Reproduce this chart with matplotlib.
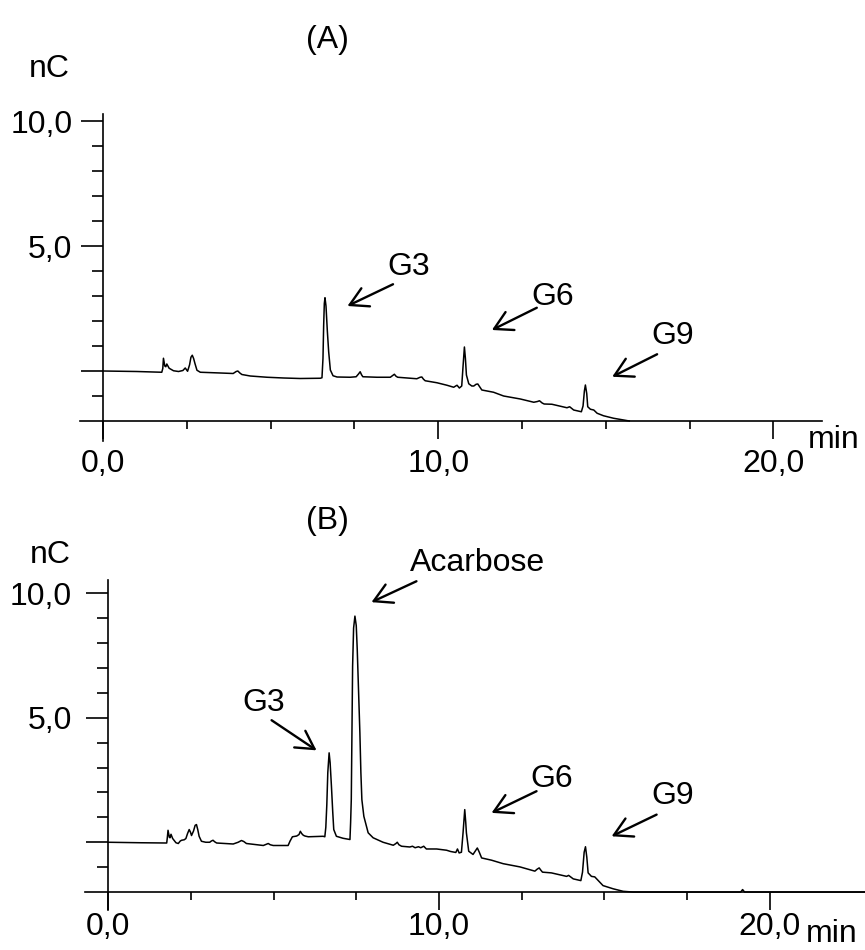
import matplotlib
matplotlib.use('Agg')
import matplotlib.pyplot as plt

plt.rcParams['font.family'] = ['Liberation Sans', 'DejaVu Sans']

# chromatogram A (time in min, signal in nC)
time_a = [0.0, 1.0, 1.75, 1.78, 1.80, 1.84, 1.87, 1.90, 1.97, 2.10, 2.25, 2.38,
          2.45, 2.52, 2.58, 2.62, 2.66, 2.70, 2.74, 2.80, 2.90, 3.50, 3.88, 3.97,
          4.02, 4.08, 4.14, 4.39, 4.89, 5.39, 5.88, 6.48, 6.53, 6.56, 6.58, 6.60,
          6.62, 6.65, 6.69, 6.73, 6.78, 6.86, 6.98, 7.37, 7.55, 7.62, 7.67, 7.71,
          7.75, 8.17, 8.57, 8.65, 8.69, 8.74, 8.79, 9.36, 9.46, 9.51, 9.56, 9.61,
          9.96, 10.26, 10.46, 10.52, 10.56, 10.63, 10.70, 10.74, 10.78, 10.81,
          10.84, 10.91, 11.00, 11.06, 11.13, 11.18, 11.30, 11.65, 11.95, 12.45,
          12.85, 12.96, 13.02, 13.10, 13.16, 13.39, 13.84, 13.92, 14.04, 14.27,
          14.32, 14.36, 14.39, 14.43, 14.46, 14.54, 14.64, 14.74, 14.93, 15.23,
          15.53, 15.70]
signal_a = [0.00, -0.02, -0.05, 0.10, 0.51, 0.20, 0.17, 0.28, 0.11, 0.01, -0.02, 0.02,
            0.12, -0.01, 0.25, 0.55, 0.63, 0.50, 0.30, 0.03, -0.05, -0.08, -0.10, -0.02,
            0.00, -0.08, -0.14, -0.20, -0.25, -0.28, -0.30, -0.29, -0.27, 0.50, 1.80, 2.70,
            2.93, 2.60, 1.60, 0.77, 0.04, -0.19, -0.24, -0.25, -0.23, -0.12, -0.03, -0.15,
            -0.23, -0.25, -0.25, -0.17, -0.13, -0.21, -0.25, -0.31, -0.25, -0.24, -0.33, -0.39,
            -0.47, -0.57, -0.65, -0.60, -0.57, -0.68, -0.60, 0.20, 0.96, 0.50,
            -0.16, -0.51, -0.60, -0.60, -0.53, -0.52, -0.76, -0.85, -1.00, -1.12,
            -1.25, -1.22, -1.19, -1.28, -1.32, -1.33, -1.47, -1.43, -1.56, -1.63,
            -1.40, -0.80, -0.56, -0.90, -1.43, -1.53, -1.56, -1.69, -1.79, -1.89,
            -1.96, -2.00]

# chromatogram B
time_b = [0.0, 1.0, 1.77, 1.79, 1.81, 1.85, 1.87, 1.90, 1.95, 1.99, 2.05, 2.12,
          2.18, 2.22, 2.30, 2.35, 2.40, 2.45, 2.49, 2.52, 2.58, 2.63, 2.67, 2.71,
          2.75, 2.82, 2.95, 3.07, 3.12, 3.17, 3.22, 3.28, 3.78, 3.93, 4.03, 4.10,
          4.18, 4.69, 4.78, 4.84, 4.90, 4.99, 5.44, 5.50, 5.57, 5.70, 5.77, 5.81,
          5.85, 5.90, 5.95, 6.05, 6.50, 6.55, 6.58, 6.61, 6.64, 6.68, 6.71, 6.75,
          6.79, 6.82, 6.90, 7.10, 7.31, 7.33, 7.35, 7.37, 7.39, 7.42, 7.46, 7.50,
          7.53, 7.57, 7.61, 7.64, 7.67, 7.73, 7.86, 8.01, 8.31, 8.62, 8.70, 8.74,
          8.79, 8.87, 9.12, 9.20, 9.28, 9.38, 9.45, 9.54, 9.62, 9.93, 10.23, 10.35,
          10.51, 10.56, 10.61, 10.68, 10.73, 10.78, 10.81, 10.83, 10.90, 11.03,
          11.10, 11.16, 11.22, 11.29, 11.59, 11.94, 12.45, 12.90, 12.97, 13.03,
          13.08, 13.13, 13.40, 13.86, 13.92, 14.06, 14.29, 14.34, 14.39, 14.43,
          14.47, 14.51, 14.61, 14.71, 14.81, 14.96, 15.27, 15.57, 15.87, 19.12,
          19.18, 19.24, 22.9]
signal_b = [0.00, -0.02, -0.03, 0.20, 0.48, 0.20, 0.18, 0.32, 0.15, 0.08, -0.02, -0.05,
            0.05, 0.08, 0.10, 0.15, 0.35, 0.51, 0.40, 0.27, 0.45, 0.68, 0.71, 0.50,
            0.24, 0.04, 0.00, 0.00, 0.05, 0.08, 0.02, -0.03, -0.07, 0.00, 0.07, 0.03,
            -0.05, -0.13, -0.08, -0.05, -0.10, -0.13, -0.13, 0.05, 0.22, 0.25, 0.31, 0.44,
            0.35, 0.28, 0.25, 0.22, 0.24, 0.22, 0.60, 1.50, 2.80, 3.59, 3.20, 2.25,
            1.20, 0.51, 0.24, 0.16, 0.11, 0.80, 1.71, 4.50, 7.07, 8.60, 9.08, 8.70,
            7.74, 6.00, 4.39, 2.80, 1.71, 1.04, 0.38, 0.18, 0.00, -0.12, -0.05, 0.00,
            -0.10, -0.16, -0.19, -0.16, -0.22, -0.18, -0.22, -0.16, -0.27, -0.27, -0.32, -0.37,
            -0.41, -0.27, -0.43, -0.40, 0.40, 1.31, 0.80, 0.38, -0.36, -0.49,
            -0.35, -0.23, -0.40, -0.63, -0.72, -0.86, -0.99, -1.16, -1.08, -1.03,
            -1.12, -1.20, -1.23, -1.37, -1.33, -1.47, -1.54, -1.20, -0.40, -0.18,
            -0.60, -1.23, -1.37, -1.39, -1.53, -1.74, -1.87, -1.97, -2.00, -2.00,
            -1.90, -2.00, -2.00]

# peak labels: text, text position, arrow tail, arrow head
labels_a = ['G3', 'G6', 'G9']
label_pos_a = [(9.13, 4.16), (13.40, 2.96), (17.0, 1.40)]
arrows_a = [((8.65, 3.47), (7.29, 2.60)),
            ((12.94, 2.53), (11.60, 1.64)),
            ((16.53, 0.67), (15.19, -0.23))]

labels_b = ['Acarbose', 'G3', 'G6', 'G9']
label_pos_b = [(11.18, 11.23), (4.71, 5.61), (13.41, 2.52), (17.06, 1.84)]
arrows_b = [((9.32, 10.48), (7.96, 9.64)),
            ((4.94, 4.90), (6.30, 3.69)),
            ((12.95, 2.05), (11.59, 1.18)),
            ((16.58, 1.11), (15.22, 0.24))]

x_major = [0, 10, 20]
x_major_labels = ['0,0', '10,0', '20,0']
x_minor = [2.5, 5, 7.5, 12.5, 15, 17.5]
y_major = [0, 5, 10]
y_major_labels = ['', '5,0', '10,0']
y_minor = [-1, 1, 2, 3, 4, 6, 7, 8, 9]

FS = 23
W, H = 865, 950


def px(x, y):
    return x / W, 1 - y / H


def style_axes(ax, xpad, ypad):
    for s in ('top', 'right'):
        ax.spines[s].set_visible(False)
    ax.spines['left'].set_position(('data', 0))
    ax.spines['bottom'].set_position(('data', -2))
    for s in ('left', 'bottom'):
        ax.spines[s].set_linewidth(1.2)
    ax.set_xticks(x_major)
    ax.set_xticklabels(x_major_labels)
    ax.set_xticks(x_minor, minor=True)
    ax.set_yticks(y_major)
    ax.set_yticklabels(y_major_labels)
    ax.set_yticks(y_minor, minor=True)
    ax.tick_params(axis='x', which='major', length=13, width=1.2, labelsize=FS, pad=xpad)
    ax.tick_params(axis='x', which='minor', length=6, width=1.2)
    ax.tick_params(axis='y', which='major', length=16, width=1.2, labelsize=FS, pad=ypad)
    ax.tick_params(axis='y', which='minor', length=8, width=1.2)
    ax.patch.set_alpha(0)


def annotate(ax, labels, positions, arrows):
    for lab, (tx, ty), (tail, head) in zip(labels, positions, arrows):
        ax.text(tx, ty, lab, fontsize=FS, ha='center', va='center')
        ax.annotate('', xy=head, xytext=tail,
                    arrowprops=dict(arrowstyle='->,head_length=0.64,head_width=0.36',
                                    mutation_scale=20, lw=1.7, color='black',
                                    shrinkA=0, shrinkB=0))


fig = plt.figure(figsize=(W / 100, H / 100), dpi=100)

ax_a = fig.add_axes([80 / W, (H - 441) / H, 742 / W, 327.5 / H])
ax_a.plot(time_a, signal_a, color='black', lw=1.1)
ax_a.set_xlim(-0.69, 21.45)
ax_a.set_ylim(-2.8, 10.3)
style_axes(ax_a, xpad=7, ypad=6)
annotate(ax_a, labels_a, label_pos_a, arrows_a)

ax_b = fig.add_axes([85 / W, (H - 910) / H, 780 / W, 330 / H])
ax_b.plot(time_b, signal_b, color='black', lw=1.1)
ax_b.set_xlim(-0.70, 22.88)
ax_b.set_ylim(-2.72, 10.53)
style_axes(ax_b, xpad=1, ypad=10)
annotate(ax_b, labels_b, label_pos_b, arrows_b)

for txt, (x, y) in [('(A)', (327, 40)), ('nC', (49, 69)),
                    ('(B)', (327, 521)), ('nC', (50, 555))]:
    fig.text(*px(x, y), txt, fontsize=FS, ha='center', va='center')
# axis unit labels, pinned to the right edge
fig.text(*px(860, 440), 'min', fontsize=FS, ha='right', va='center')
fig.text(*px(858, 934), 'min', fontsize=FS, ha='right', va='center')

fig.savefig('out.png', dpi=100)
